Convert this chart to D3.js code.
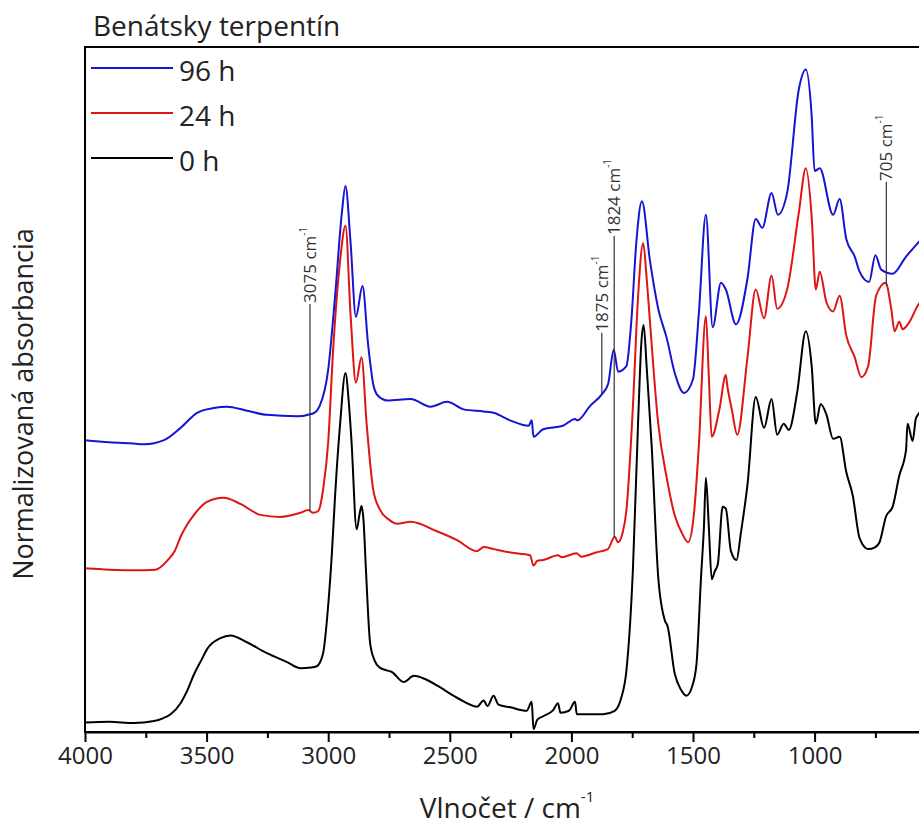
<!DOCTYPE html>
<html>
<head>
<meta charset="utf-8">
<script src="https://cdn.jsdelivr.net/npm/d3@7/dist/d3.min.js"></script>
<style>
  html, body { margin: 0; padding: 0; background: #fff; }
  svg { display: block; font-family: "Open Sans", "Noto Sans", sans-serif; }
</style>
</head>
<body>
<svg id="chart" width="919" height="840"></svg>
<script>
// ---------------- data ----------------
const seriesNames = ["96 h", "24 h", "0 h"];
const seriesColors = ["#1414d2", "#e01414", "#000000"];

// 0 h (black)
const wn0h = [4000,3900,3800,3716,3680,3648,3607,3580,3552,3520,3498,3443,3402,3334,3252,3169,3114,3070,3047,3021,3000,2985,2972,2951,2929,2915,2904,2883,2870,2863,2855,2845,2828,2810,2788,2760,2740,2690,2647,2600,2553,2470,2388,2361,2345,2320,2300,2250,2184,2163,2156,2140,2116,2075,2055,2045,2010,1985,1978,1900,1870,1822,1795,1774,1747,1726,1712,1703,1690,1670,1643,1615,1605,1575,1550,1527,1505,1486,1467,1455,1447,1435,1423,1410,1398,1378,1365,1344,1321,1303,1276,1242,1208,1177,1154,1127,1106,1072,1036,1012,995,975,951,924,897,870,843,815,780,750,733,706,679,652,624,618,597,584,575,560];
const abs0h = [0.014,0.015,0.013,0.016,0.020,0.026,0.042,0.060,0.084,0.106,0.121,0.137,0.141,0.131,0.115,0.102,0.093,0.094,0.096,0.115,0.185,0.260,0.343,0.450,0.524,0.480,0.423,0.296,0.320,0.330,0.310,0.238,0.131,0.105,0.094,0.090,0.088,0.073,0.082,0.077,0.068,0.050,0.037,0.046,0.038,0.053,0.040,0.036,0.031,0.044,0.004,0.018,0.023,0.032,0.042,0.028,0.031,0.044,0.026,0.026,0.026,0.031,0.050,0.089,0.238,0.450,0.570,0.594,0.530,0.418,0.226,0.162,0.155,0.085,0.062,0.053,0.065,0.098,0.226,0.300,0.371,0.300,0.223,0.235,0.245,0.329,0.326,0.264,0.251,0.291,0.361,0.489,0.444,0.486,0.434,0.450,0.441,0.495,0.585,0.534,0.450,0.479,0.463,0.428,0.431,0.380,0.345,0.283,0.267,0.270,0.277,0.315,0.329,0.374,0.412,0.450,0.425,0.457,0.463,0.470];

// 24 h (red)
const wn24h = [4000,3900,3800,3710,3662,3630,3607,3552,3498,3430,3361,3279,3198,3114,3082,3062,3040,3021,3000,2980,2951,2929,2908,2886,2863,2842,2815,2788,2750,2717,2661,2553,2470,2388,2360,2320,2250,2170,2156,2140,2116,2055,2040,1979,1960,1900,1850,1822,1808,1790,1774,1747,1726,1705,1690,1677,1643,1608,1575,1545,1520,1497,1476,1447,1435,1423,1392,1365,1360,1340,1318,1276,1242,1208,1177,1154,1113,1065,1036,1012,995,979,951,924,897,870,835,808,780,747,708,685,671,652,638,611,575,560];
const abs24h = [0.239,0.237,0.236,0.237,0.250,0.265,0.285,0.317,0.336,0.342,0.333,0.317,0.314,0.320,0.324,0.320,0.323,0.354,0.423,0.556,0.688,0.739,0.609,0.510,0.547,0.450,0.354,0.325,0.310,0.304,0.307,0.293,0.280,0.264,0.270,0.267,0.262,0.258,0.243,0.250,0.251,0.258,0.255,0.261,0.256,0.262,0.267,0.285,0.277,0.290,0.323,0.476,0.635,0.714,0.660,0.599,0.450,0.371,0.316,0.290,0.277,0.315,0.418,0.607,0.520,0.431,0.470,0.521,0.508,0.470,0.434,0.547,0.646,0.604,0.666,0.618,0.646,0.758,0.823,0.752,0.646,0.672,0.627,0.614,0.637,0.579,0.547,0.518,0.534,0.637,0.656,0.618,0.585,0.599,0.588,0.598,0.623,0.630];

// 96 h (blue)
const wn96h = [4000,3900,3800,3757,3675,3607,3539,3471,3416,3334,3252,3130,3062,3035,3000,2972,2944,2929,2908,2886,2859,2836,2815,2798,2757,2661,2579,2511,2443,2361,2320,2253,2176,2163,2156,2116,2035,1985,1975,1923,1875,1849,1826,1808,1774,1754,1733,1710,1677,1643,1608,1575,1537,1500,1476,1447,1419,1385,1365,1323,1276,1242,1215,1177,1151,1113,1065,1036,1012,1000,979,924,897,870,835,815,776,750,726,679,624,575,560];
const abs96h = [0.426,0.423,0.421,0.420,0.426,0.444,0.466,0.473,0.475,0.469,0.463,0.461,0.465,0.476,0.529,0.635,0.757,0.797,0.714,0.606,0.651,0.566,0.508,0.492,0.484,0.486,0.475,0.482,0.471,0.468,0.466,0.455,0.447,0.455,0.431,0.442,0.447,0.457,0.455,0.476,0.493,0.508,0.558,0.526,0.534,0.598,0.715,0.775,0.688,0.618,0.575,0.524,0.495,0.515,0.611,0.755,0.591,0.656,0.646,0.595,0.662,0.749,0.736,0.787,0.755,0.787,0.938,0.967,0.899,0.819,0.823,0.755,0.778,0.720,0.694,0.672,0.657,0.696,0.675,0.669,0.694,0.714,0.720];

// axis ticks
const xMajorTicks = [4000,3500,3000,2500,2000,1500,1000];
const xMinorTicks = [3750,3250,2750,2250,1750,1250,750];

// band annotations
const annotWn = [3075, 1875, 1824, 705];
const annotSeries = ["24 h", "96 h", "24 h", "24 h"];
const annotTop = [0.625, 0.583, 0.724, 0.803];

// ---------------- chart ----------------
const svg = d3.select("#chart");
const plotLeft = 85, plotTop = 47, plotBottom = 732;
const pxPerUnit = 0.2432;
const x = d3.scaleLinear().domain([4000, 400]).range([plotLeft, plotLeft + 3600 * pxPerUnit]);
const y = d3.scaleLinear().domain([0, 1]).range([plotBottom, plotTop]);

const seriesData = {
  "0 h": wn0h.map((w, i) => [w, abs0h[i]]),
  "24 h": wn24h.map((w, i) => [w, abs24h[i]]),
  "96 h": wn96h.map((w, i) => [w, abs96h[i]])
};

const line = d3.line().x(d => x(d[0])).y(d => y(d[1])).curve(d3.curveMonotoneX);

["0 h", "24 h", "96 h"].forEach(name => {
  const c = seriesColors[seriesNames.indexOf(name)];
  svg.append("path")
    .datum(seriesData[name])
    .attr("d", line)
    .attr("fill", "none")
    .attr("stroke", c)
    .attr("stroke-width", 2)
    .attr("stroke-linejoin", "round");
});

function valueAt(name, w) {
  const d = seriesData[name];
  for (let i = 0; i < d.length - 1; i++) {
    if (d[i][0] >= w && d[i + 1][0] <= w) {
      const t = (d[i][0] - w) / (d[i][0] - d[i + 1][0]);
      return d[i][1] + t * (d[i + 1][1] - d[i][1]);
    }
  }
  return d[d.length - 1][1];
}

annotWn.forEach((w, i) => {
  const xv = x(w);
  const y0 = y(valueAt(annotSeries[i], w));
  const y1 = y(annotTop[i]);
  svg.append("line")
    .attr("x1", xv).attr("x2", xv)
    .attr("y1", y0).attr("y2", y1)
    .attr("stroke", "#333").attr("stroke-width", 1.2);
  const t = svg.append("text")
    .attr("transform", `translate(${xv},${y1 - 1}) rotate(-90)`)
    .attr("dy", "0.35em")
    .attr("font-size", 17)
    .attr("fill", "#333")
    .attr("text-anchor", "start");
  t.append("tspan").text(w + " cm");
  t.append("tspan").attr("font-size", 10).attr("dy", "-0.9em").text("-1");
});

svg.append("rect")
  .attr("x", plotLeft).attr("y", plotTop)
  .attr("width", 3600 * pxPerUnit).attr("height", plotBottom - plotTop)
  .attr("fill", "none").attr("stroke", "#000").attr("stroke-width", 2);

const gx = svg.append("g").attr("transform", `translate(0,${plotBottom})`)
  .call(d3.axisBottom(x).tickValues(xMajorTicks).tickSize(10).tickSizeOuter(0).tickPadding(5).tickFormat(d3.format("d")));
gx.select(".domain").attr("stroke-width", 2);
gx.selectAll(".tick line").attr("stroke-width", 2);
gx.selectAll(".tick text").attr("font-size", 24).attr("fill", "#222")
  .attr("font-family", "'Open Sans', sans-serif");

const gxm = svg.append("g").attr("transform", `translate(0,${plotBottom})`)
  .call(d3.axisBottom(x).tickValues(xMinorTicks).tickSize(6).tickSizeOuter(0).tickFormat(""));
gxm.select(".domain").remove();
gxm.selectAll(".tick line").attr("stroke-width", 2);

const xt = svg.append("text")
  .attr("x", 507).attr("y", 818)
  .attr("text-anchor", "middle")
  .attr("font-size", 28).attr("fill", "#222");
xt.append("tspan").text("Vlnočet / cm");
xt.append("tspan").attr("font-size", 15).attr("dy", "-1.1em").text("-1");

svg.append("text")
  .attr("transform", "translate(33,404) rotate(-90)")
  .attr("text-anchor", "middle")
  .attr("font-size", 27).attr("fill", "#222")
  .text("Normalizovaná absorbancia");

svg.append("text")
  .attr("x", 93).attr("y", 36)
  .attr("font-size", 28).attr("fill", "#222")
  .text("Benátsky terpentín");

const legendY = [68, 113, 158];
seriesNames.forEach((name, i) => {
  svg.append("line")
    .attr("x1", 91).attr("x2", 173)
    .attr("y1", legendY[i]).attr("y2", legendY[i])
    .attr("stroke", seriesColors[i]).attr("stroke-width", 2);
  svg.append("text")
    .attr("x", 179).attr("y", legendY[i] + 13)
    .attr("font-size", 28).attr("fill", "#222")
    .text(name);
});
</script>
</body>
</html>
